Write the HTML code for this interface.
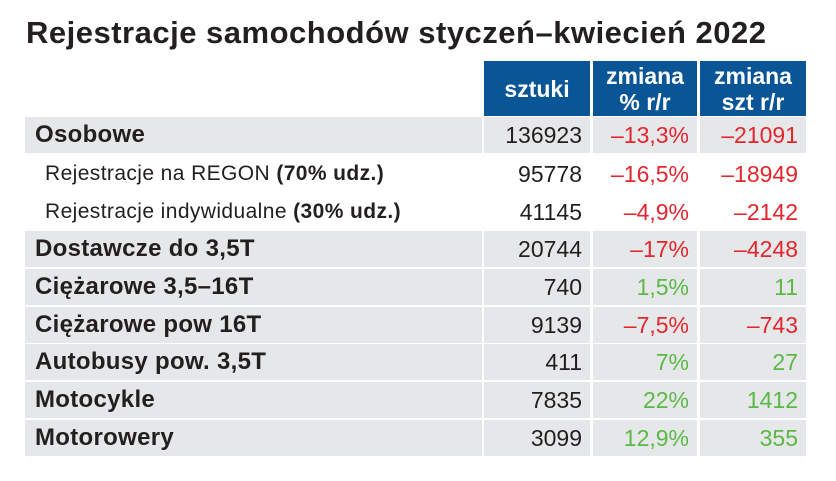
<!DOCTYPE html>
<html><head><meta charset="utf-8"><style>
body{margin:0;background:#fff;width:836px;height:481px;overflow:hidden;font-family:"Liberation Sans",sans-serif;color:#231f20}
.t{position:absolute;left:26px;top:15px;font-size:31px;font-weight:bold;letter-spacing:0.5px;white-space:nowrap}
.c{position:absolute;box-sizing:border-box;display:flex;align-items:center;font-size:23px;white-space:nowrap}
.h{background:#0a5596;color:#fff;font-weight:bold;justify-content:center;text-align:center;line-height:26px;font-size:23px}
.g{background:#e6e7e9}
.r{justify-content:flex-end;padding-right:8px}
.red{color:#e3262e}.grn{color:#5ab946}
.b{font-weight:bold;padding-left:10px;font-size:24px;letter-spacing:0.3px}
.s{padding-left:20px;font-size:21px;letter-spacing:0.4px}
</style></head><body>
<div class="t">Rejestracje samochodów styczeń–kwiecień 2022</div>
<div id="tbl"></div>
<script>
const labels=["Osobowe","Rejestracje na REGON <b>(70% udz.)</b>","Rejestracje indywidualne <b>(30% udz.)</b>","Dostawcze do 3,5T","Ciężarowe 3,5–16T","Ciężarowe pow 16T","Autobusy pow. 3,5T","Motocykle","Motorowery"];
const units=["136923","95778","41145","20744","740","9139","411","7835","3099"];
const pct=["–13,3%","–16,5%","–4,9%","–17%","1,5%","–7,5%","7%","22%","12,9%"];
const diff=["–21091","–18949","–2142","–4248","11","–743","27","1412","355"];
const sub=[false,true,true,false,false,false,false,false,false];
const cols=[[25,457],[484,106],[593,104],[700,106]];
const tbl=document.getElementById('tbl');
function cell(x,y,w,h,cls,html){const d=document.createElement('div');d.className='c '+cls;d.style.left=x+'px';d.style.top=y+'px';d.style.width=w+'px';d.style.height=h+'px';d.innerHTML='<span>'+html+'</span>';tbl.appendChild(d);return d;}
const hs=["sztuki","zmiana<br>% r/r","zmiana<br>szt r/r"];
const hn=["header-sztuki","header-change-pct","header-change-units"];
hs.forEach((t,i)=>{const d=cell(cols[i+1][0],61,cols[i+1][1],55,'h',t);

});
const tops=[117,155,193,231,269,307,344,382,420];
labels.forEach((l,i)=>{
 const y=tops[i],h=sub[i]?38:36,g=sub[i]?'':'g';
 const a=cell(cols[0][0],y,cols[0][1],h,g+(sub[i]?' s':' b'),sub[i]?l:'<b>'+l+'</b>');
 
 
 const u=cell(cols[1][0],y,cols[1][1],h,g+' r',units[i]);
 
 
 const p=cell(cols[2][0],y,cols[2][1],h,g+' r '+(pct[i][0]=='–'?'red':'grn'),pct[i]);
 
 
 const q=cell(cols[3][0],y,cols[3][1],h,g+' r '+(diff[i][0]=='–'?'red':'grn'),diff[i]);
 
 
});
</script>
</body></html>
